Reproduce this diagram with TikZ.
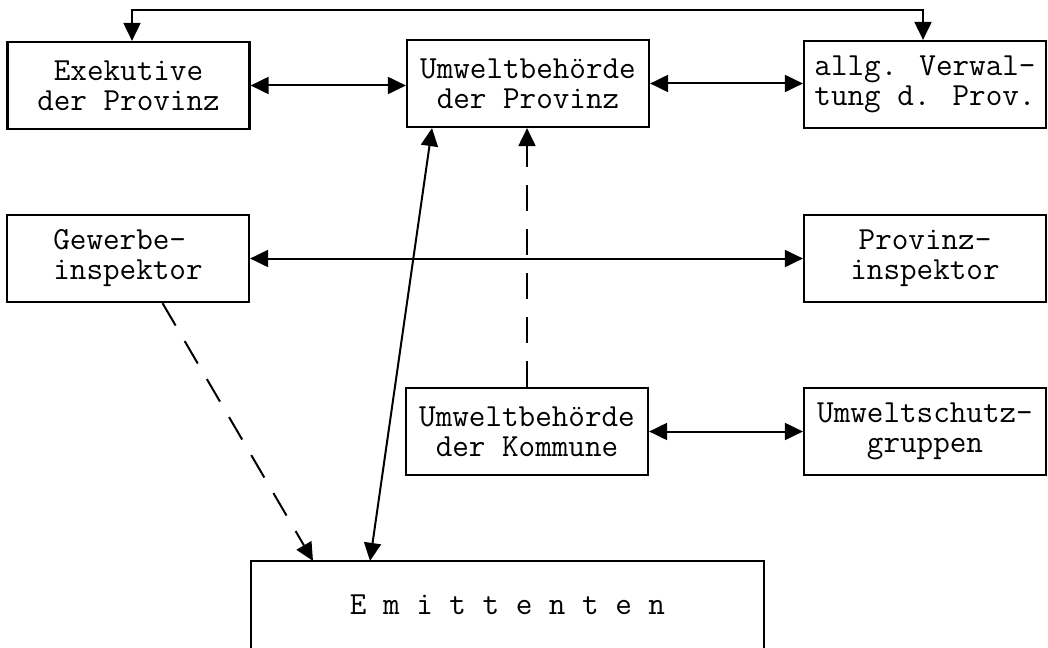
\documentclass[tikz,border=0pt]{standalone}
\usetikzlibrary{arrows.meta,calc}
\tikzset{
  box/.style={draw, line width=1.1pt, minimum width=121pt, minimum height=43.5pt,
    inner sep=0pt, align=center, font=\ttfamily\fontsize{16.1pt}{15pt}\selectfont},
  conn/.style={line width=1pt, {Triangle[length=9pt,width=8.5pt]}-{Triangle[length=9pt,width=8.5pt]}},
  dashconn/.style={line width=1pt, dash pattern=on 13pt off 9pt, -{Triangle[length=9pt,width=8.5pt]}}
}
\begin{document}
\begin{tikzpicture}[x=0.5pt,y=-0.5pt]
\useasboundingbox (0,0) rectangle (1048,647);
\node[box] (exek) at (128.5,85.5) {Exekutive\\der Provinz};
\node[box] (upro) at (528,83.5) {Umweltbehörde\\der Provinz};
\node[box] (allg) at (925,84.5) {allg. Verwal-\\tung d. Prov.};
\node[box, align=left] (gew) at (128,258.5) {Gewerbe-\\inspektor};
\node[box] (prov) at (925,258.5) {Provinz-\\inspektor};
\node[box] (komm) at (527,431.5) {Umweltbehörde\\der Kommune};
\node[box] (usg) at (925,431.5) {Umweltschutz-\\gruppen};
\node[box, draw=none, minimum width=255.5pt, minimum height=43pt] (emit) at (507.5,605) {E m i t t e n t e n};
\draw[line width=1.1pt] ($(emit.south west)+(0,20)$) -- (emit.north west) -- (emit.north east) -- ($(emit.south east)+(0,20)$);
% top connector
\draw[conn] ([xshift=1.75pt]exek.north) -- ++(0,-31) -| ([xshift=-1pt]allg.north);
% horizontal
\draw[conn] (exek.east) -- (exek.east -| upro.west);
\draw[conn] (upro.east) -- (upro.east -| allg.west);
\draw[conn] (gew.east) -- (prov.west);
\draw[conn] (komm.east) -- (komm.east -| usg.west);
% diagonal solid
\draw[conn] ([xshift=-48pt]upro.south) -- ([xshift=-68.75pt]emit.north);
% dashed
\draw[dashconn] (komm.north) -- (komm.north |- upro.south);
\draw[dashconn] ([xshift=17.25pt]gew.south) -- ([xshift=-97.25pt]emit.north);
\end{tikzpicture}
\end{document}
